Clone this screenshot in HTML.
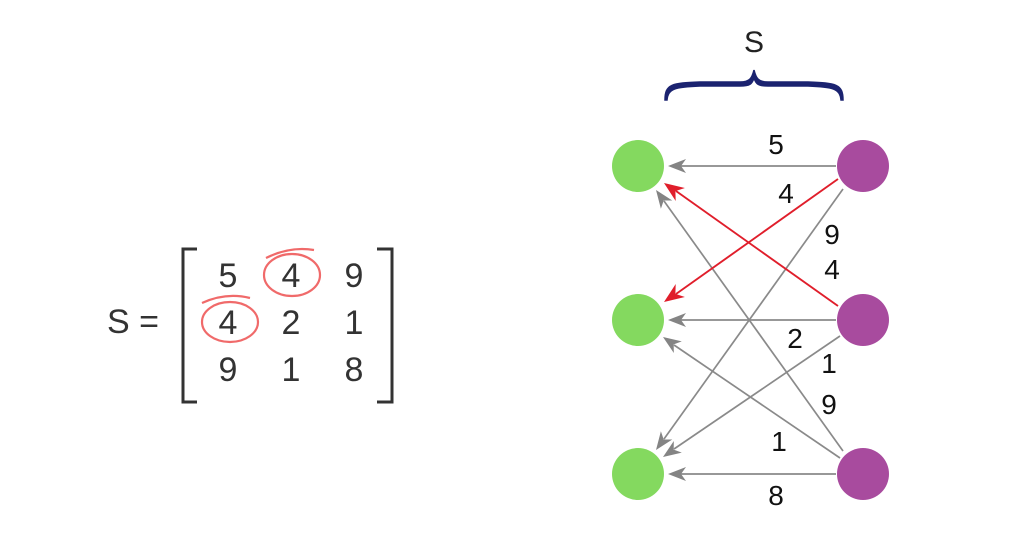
<!DOCTYPE html>
<html><head><meta charset="utf-8"><style>
html,body{margin:0;padding:0;background:#fff;}
svg{display:block;}
text{font-family:"Liberation Sans","DejaVu Sans",sans-serif;}
</style></head><body>
<svg width="1024" height="550" viewBox="0 0 1024 550" xmlns="http://www.w3.org/2000/svg">
<!-- matrix -->
<text x="133" y="333" font-size="34" text-anchor="middle" fill="#333">S =</text>
<path d="M197,249 H183 V402 H197" fill="none" stroke="#333" stroke-width="3"/>
<path d="M377,249 H392 V402 H377" fill="none" stroke="#333" stroke-width="3"/>
<g font-size="34" fill="#333" text-anchor="middle">
<text x="228" y="287">5</text><text x="291" y="287">4</text><text x="354" y="287">9</text>
<text x="228" y="334">4</text><text x="291" y="334">2</text><text x="354" y="334">1</text>
<text x="228" y="381">9</text><text x="291" y="381">1</text><text x="354" y="381">8</text>
</g>
<g fill="none" stroke="#f06a6a" stroke-width="2.2">
<ellipse cx="292" cy="275" rx="28" ry="21"/>
<path d="M266,258 Q290,246 314,250"/>
<ellipse cx="230" cy="322" rx="28" ry="20"/>
<path d="M202,303 Q226,292 250,298"/>
</g>
<!-- brace -->
<text x="754" y="52" font-size="30" text-anchor="middle" fill="#222">S</text>
<path d="M665,100 C665,84 672,83 700,82 L740,82 C750,82 752,78 754,70 C756,78 758,82 768,82 L808,82 C836,83 843,84 843,100 L841,100 C840,88 832,87 808,86 L768,86 C758,86 756,84 754,78 C752,84 750,86 740,86 L700,86 C676,87 668,88 667,100 Z" fill="#1b2370" stroke="#1b2370" stroke-width="1.5"/>
<!-- edges -->
<g stroke="#8a8a8a" stroke-width="1.7" fill="none">
<line x1="836" y1="166" x2="681" y2="166"/>
<line x1="836" y1="320" x2="681" y2="320"/>
<line x1="836" y1="474" x2="681" y2="474"/>
<line x1="843" y1="189" x2="664" y2="439"/>
<line x1="840" y1="336" x2="674" y2="449"/>
<line x1="843" y1="451" x2="664" y2="201"/>
<line x1="840" y1="458" x2="674" y2="345"/>
</g>
<g fill="#848484">
<polygon points="668,166 686,159 681,166 686,173"/>
<polygon points="668,320 686,313 681,320 686,327"/>
<polygon points="668,474 686,467 681,474 686,481"/>
<polygon points="656,450 672.3,439.5 663.7,439.5 660.9,431.3"/>
<polygon points="663,457 681.8,452.6 673.7,449.6 673.8,441.0"/>
<polygon points="656,190 672.3,200.5 663.7,200.5 660.9,208.7"/>
<polygon points="663,337 681.8,341.4 673.7,344.4 673.8,353.0"/>
</g>
<g stroke="#e01e2b" stroke-width="1.9" fill="none">
<line x1="838" y1="179" x2="676" y2="294"/>
<line x1="838" y1="306" x2="676" y2="191"/>
</g>
<g fill="#e01e2b">
<polygon points="664,302 684.9,297.0 675.4,293.9 675.7,284.0"/>
<polygon points="664,183 684.9,188.0 675.4,191.1 675.7,201.0"/>
</g>
<!-- nodes -->
<g fill="#84d95f"><circle cx="638" cy="166" r="26"/><circle cx="638" cy="320" r="26"/><circle cx="638" cy="474" r="26"/></g>
<g fill="#a84b9e"><circle cx="863" cy="166" r="26"/><circle cx="863" cy="320" r="26"/><circle cx="863" cy="474" r="26"/></g>
<!-- labels -->
<g font-size="28" fill="#111" text-anchor="middle">
<text x="776" y="154">5</text>
<text x="786" y="203">4</text>
<text x="832" y="244">9</text>
<text x="832" y="279">4</text>
<text x="795" y="348">2</text>
<text x="829" y="373">1</text>
<text x="829" y="414">9</text>
<text x="779" y="451">1</text>
<text x="776" y="505">8</text>
</g>
</svg>
</body></html>
